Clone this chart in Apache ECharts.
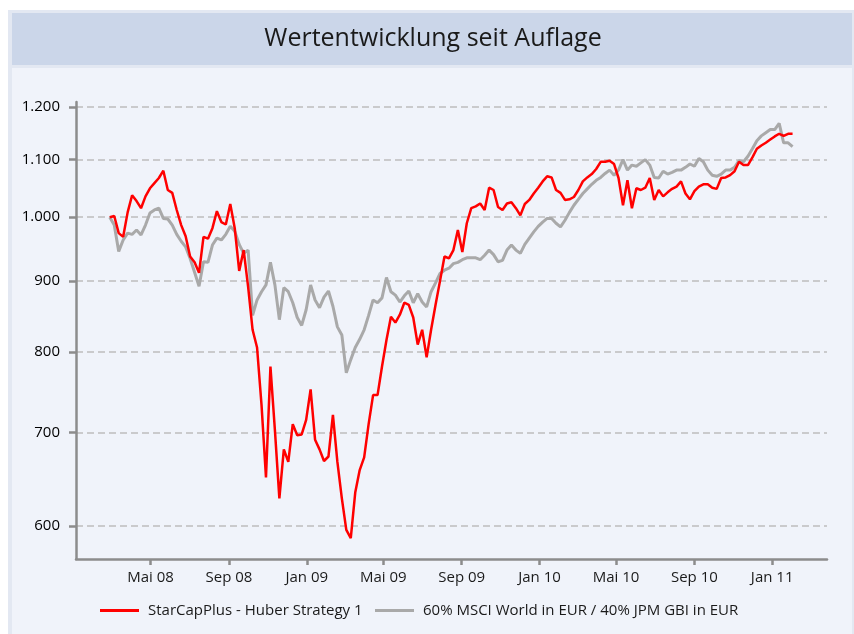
<!DOCTYPE html>
<html>
<head>
<meta charset="utf-8">
<title>Wertentwicklung seit Auflage</title>
<script src="https://cdn.jsdelivr.net/npm/echarts@6/dist/echarts.min.js"></script>
<style>
  html, body { margin: 0; background: #ffffff; }
  #chart { width: 854px; height: 634px; }
</style>
</head>
<body>
<div id="chart"></div>
<script>
// weekly closing values, starting 27.02.2008
const fundName = "StarCapPlus - Huber Strategy 1";
const benchName = "60% MSCI World in EUR / 40% JPM GBI in EUR";

const fundValues = [
  1000, 1002, 974, 968, 1008, 1037, 1027, 1015, 1035, 1049,
  1058, 1067, 1080, 1046, 1041, 1012, 987, 969, 937, 928,
  912, 968, 965, 982, 1010, 992, 988, 1022, 982, 915,
  947, 891, 830, 806, 733, 650, 781, 703, 628, 681,
  667, 710, 697, 698, 715, 752, 692, 681, 668, 673,
  721, 667, 628, 596, 588, 634, 658, 672, 710, 745,
  745, 781, 816, 848, 840, 851, 868, 865, 847, 810,
  830, 793, 830, 865, 900, 937, 934, 947, 979, 944,
  990, 1015, 1018, 1023, 1012, 1050, 1046, 1017, 1012, 1023,
  1025, 1015, 1003, 1022, 1029, 1040, 1050, 1061, 1070, 1068,
  1046, 1041, 1029, 1030, 1034, 1046, 1061, 1068, 1074, 1083,
  1096, 1096, 1098, 1092, 1067, 1020, 1063, 1015, 1049, 1046,
  1050, 1067, 1029, 1046, 1035, 1042, 1048, 1052, 1061, 1040,
  1030, 1044, 1052, 1056, 1056, 1050, 1048, 1067, 1068, 1072,
  1079, 1096, 1090, 1090, 1104, 1120, 1126, 1131, 1137, 1143,
  1148, 1144, 1148, 1148
];

const benchValues = [
  1000, 987, 945, 963, 974, 972, 979, 971, 987, 1007,
  1012, 1015, 998, 997, 987, 972, 961, 952, 934, 913,
  892, 929, 928, 955, 966, 963, 972, 985, 977, 956,
  942, 947, 850, 872, 884, 894, 928, 894, 844, 890,
  884, 868, 847, 836, 858, 894, 872, 861, 876, 885,
  863, 834, 823, 773, 790, 806, 817, 830, 850, 872,
  868, 875, 905, 884, 879, 869, 878, 885, 868, 881,
  869, 862, 884, 897, 911, 916, 919, 926, 928, 932,
  935, 935, 935, 932, 939, 947, 940, 929, 931, 947,
  955, 947, 942, 956, 966, 976, 985, 992, 998, 998,
  990, 984, 995, 1008, 1020, 1030, 1040, 1048, 1056, 1063,
  1068, 1075, 1081, 1072, 1081, 1100, 1081, 1090, 1088, 1094,
  1100, 1090, 1068, 1067, 1079, 1074, 1077, 1081, 1081, 1086,
  1092, 1088, 1102, 1096, 1081, 1072, 1070, 1074, 1081, 1081,
  1086, 1098, 1096, 1106, 1120, 1135, 1144, 1150, 1156, 1156,
  1168, 1131, 1131, 1124
];

const xTickDates = [
  [2008, 4], [2008, 8], [2009, 0], [2009, 4], [2009, 8],
  [2010, 0], [2010, 4], [2010, 8], [2011, 0]
];
const xTickLabels = ["Mai 08", "Sep 08", "Jan 09", "Mai 09", "Sep 09", "Jan 10", "Mai 10", "Sep 10", "Jan 11"];
const yTicks = [600, 700, 800, 900, 1000, 1100, 1200];

// one point per week
const weekDates = fundValues.map((_, i) => +new Date(2008, 1, 27 + 7 * i));
const tickStamps = xTickDates.map(([y, m]) => +new Date(y, m, 1));

const fmtThousands = (v) => String(Math.round(v)).replace(/\B(?=(\d{3})+$)/g, ".");
const font = "'Open Sans', 'Noto Sans', sans-serif";
const axisGrey = "#8c8c8c";

const chart = echarts.init(document.getElementById("chart"), null, { renderer: "canvas" });

const legendBase = {
  top: 598,
  icon: "rect",
  itemWidth: 39,
  itemHeight: 3,
  textStyle: { fontFamily: font, fontSize: 15, color: "#1a1a1a", padding: [0, 0, 0, 4] },
};

chart.setOption({
  animation: false,
  graphic: {
    elements: [
      { type: "rect", z: -10, silent: true, shape: { x: 8, y: 10, width: 846, height: 624 }, style: { fill: "#e3e8f2" } },
      { type: "rect", z: -9, silent: true, shape: { x: 12, y: 13, width: 840, height: 52 }, style: { fill: "#cbd6e9" } },
      { type: "rect", z: -9, silent: true, shape: { x: 12, y: 68, width: 840, height: 566 }, style: { fill: "#f0f3fa" } },
    ],
  },
  title: {
    text: "Wertentwicklung seit Auflage",
    left: 428,
    top: 21,
    textAlign: "center",
    textStyle: { fontFamily: font, fontSize: 25, fontWeight: "normal", color: "#1a1a1a" },
  },
  legend: [
    { ...legendBase, data: [fundName], left: 95 },
    { ...legendBase, data: [benchName], left: 370 },
  ],
  grid: { left: 76, right: 27, top: 102, bottom: 75, containLabel: false },
  xAxis: {
    type: "value",
    min: +new Date(2008, 0, 5),
    max: +new Date(2011, 2, 28),
    axisLine: { lineStyle: { color: axisGrey, width: 2.5 } },
    axisTick: { customValues: tickStamps, length: 6, lineStyle: { color: axisGrey, width: 2.5 } },
    axisLabel: {
      customValues: tickStamps,
      margin: 11,
      fontFamily: font,
      fontSize: 15,
      color: "#1a1a1a",
      formatter: (v) => xTickLabels[tickStamps.indexOf(v)] ?? "",
    },
    splitLine: { show: false },
  },
  yAxis: {
    type: "log",
    min: 568,
    max: 1210,
    axisLine: { show: true, lineStyle: { color: axisGrey, width: 2.5 } },
    axisTick: { show: true, customValues: yTicks, length: 7, lineStyle: { color: axisGrey, width: 2.5 } },
    axisLabel: {
      customValues: yTicks,
      margin: 16,
      fontFamily: font,
      fontSize: 15,
      color: "#000000",
      formatter: fmtThousands,
    },
    splitLine: { show: true, lineStyle: { color: "#bdbdbd", width: 1.5, type: [7, 4] } },
    minorSplitLine: { show: false },
  },
  series: [
    {
      name: benchName,
      type: "line",
      showSymbol: false,
      z: 2,
      data: weekDates.map((d, i) => [d, benchValues[i]]),
      lineStyle: { color: "#a9a9a9", width: 3 },
      itemStyle: { color: "#a9a9a9" },
    },
    {
      name: fundName,
      type: "line",
      showSymbol: false,
      z: 3,
      data: weekDates.map((d, i) => [d, fundValues[i]]),
      lineStyle: { color: "#ff0000", width: 2.5 },
      itemStyle: { color: "#ff0000" },
    },
  ],
});
</script>
</body>
</html>
